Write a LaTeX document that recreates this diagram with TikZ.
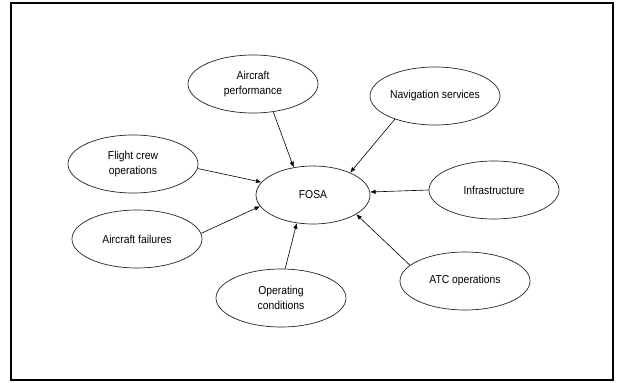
\documentclass[tikz,border=0pt]{standalone}
\usepackage{fontspec}
\setmainfont{Liberation Sans}[FakeStretch=0.9]
\usetikzlibrary{shapes.geometric,arrows.meta}
\begin{document}
\begin{tikzpicture}[x=1pt,y=-1pt,
  oval/.style={draw=black!85,ellipse,line width=0.7pt,minimum width=130pt,minimum height=58pt,inner sep=0pt,align=center,font=\fontsize{11.5}{15}\selectfont},
  link/.style={line width=0.6pt,-{Latex[length=5.5pt,width=4.5pt]}}]
\useasboundingbox (0,0) rectangle (617,382);
\fill[white] (0,0) rectangle (617,382);
\draw[line width=2pt] (11,3) rectangle (613,380);
\node[oval,minimum width=114pt] (fosa) at (313,195) {FOSA};
\node[oval] (ap) at (253,84) {Aircraft\\performance};
\node[oval] (ns) at (435,96) {Navigation services};
\node[oval] (fc) at (133,164) {Flight crew\\operations};
\node[oval] (inf) at (494,190) {Infrastructure};
\node[oval] (af) at (137,239) {Aircraft failures};
\node[oval] (oc) at (281,298) {Operating\\conditions};
\node[oval] (atc) at (465,281) {ATC operations};
\draw[link] (ap.-54) -- (fosa.125);
\draw[link] (ns.-150) -- (fosa.31);
\draw[link] (fc.-4) -- (fosa.166);
\draw[link] (af.5) -- (fosa.-168);
\draw[link] (oc.82) -- (fosa.-120);
\draw[link] (atc.164) -- (fosa.-24);
\draw[link] (inf.180) -- (fosa.3);
\end{tikzpicture}
\end{document}
